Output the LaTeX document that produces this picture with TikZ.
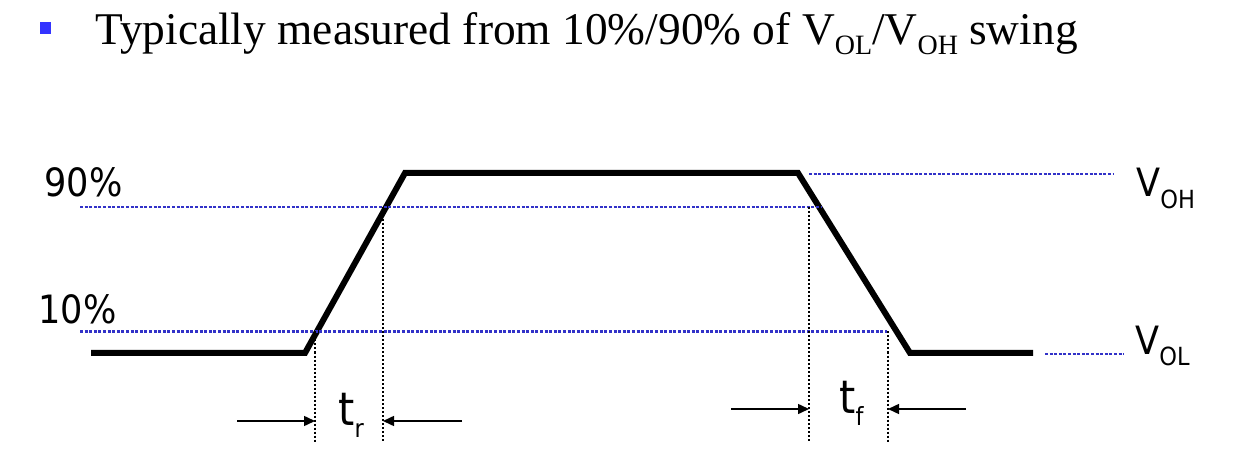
\documentclass[tikz,border=0pt]{standalone}
\usepackage{fontspec}
\setmainfont{Liberation Serif}
\newfontfamily\lab{DejaVu Sans Condensed}
\usetikzlibrary{arrows.meta}
\definecolor{bulletblue}{RGB}{51,51,255}
\definecolor{lvlblue}{RGB}{50,50,200}
\newcommand{\tsub}[1]{\raisebox{-5pt}{\fontsize{14}{14}\selectfont #1}}
\newcommand{\lsub}[2]{\raisebox{-#1}{\fontsize{12.5}{12.5}\selectfont #2}}
\begin{document}
\begin{tikzpicture}[x=0.5pt,y=-0.5pt,
  wave/.style={line width=3pt},
  lvl/.style={draw=lvlblue, line width=1.3pt, dash pattern=on 1.5pt off 0.8pt},
  vmark/.style={line width=0.8pt, dash pattern=on 1pt off 1pt},
  dim/.style={line width=0.75pt, -{Triangle[length=5.5pt,width=5pt]}},
  lbl/.style={font=\lab\fontsize{19.5}{20}\selectfont, inner sep=0pt},
  tlbl/.style={font=\lab\fontsize{23}{24}\selectfont, inner sep=0pt},
  ttl/.style={font=\fontsize{22.7}{24}\selectfont, inner sep=0pt}]
\useasboundingbox (0,0) rectangle (1246,459);

% title
\fill[bulletblue] (40,22) rectangle (51,34);
\node[ttl, anchor=base west] (title) at (95,45)
  {Typically measured from 10\%/90\% of V\tsub{OL}/V\tsub{OH} swing};

% waveform
\coordinate (w0) at (91,353);
\coordinate (w1) at (305,353);
\coordinate (w2) at (405,173);
\coordinate (w3) at (798,173);
\coordinate (w4) at (910,353);
\coordinate (w5) at (1033,353);
\draw[wave] (w0) -- (w1) -- (w2) -- (w3) -- (w4) -- (w5);

% level lines
\coordinate (n90a) at (80,207);   \coordinate (n90b) at (822,207);
\coordinate (n10a) at (80,331.5); \coordinate (n10b) at (887,331.5);
\coordinate (ohA) at (809,174);   \coordinate (ohB) at (1113,174);
\coordinate (olA) at (1045,354);  \coordinate (olB) at (1124,354);
\draw[lvl] (n90a) -- (n90b);
\draw[lvl] (n10a) -- (n10b);
\draw[lvl] (ohA) -- (ohB);
\draw[lvl] (olA) -- (olB);

% vertical markers
\coordinate (r1t) at (315,331.5); \coordinate (r1b) at (315,443);
\coordinate (r2t) at (383,207);   \coordinate (r2b) at (383,443);
\coordinate (f1t) at (809,207);   \coordinate (f1b) at (809,443);
\coordinate (f2t) at (888,331.5); \coordinate (f2b) at (888,443);
\draw[vmark] (r1t) -- (r1b);
\draw[vmark] (r2t) -- (r2b);
\draw[vmark] (f1t) -- (f1b);
\draw[vmark] (f2t) -- (f2b);

% dimension arrows
\coordinate (ra0) at (237,421); \coordinate (ra1) at (315,421);
\coordinate (rb0) at (462,421); \coordinate (rb1) at (383,421);
\coordinate (fa0) at (731,409); \coordinate (fa1) at (809,409);
\coordinate (fb0) at (966,409); \coordinate (fb1) at (888,409);
\draw[dim] (ra0) -- (ra1);
\draw[dim] (rb0) -- (rb1);
\draw[dim] (fa0) -- (fa1);
\draw[dim] (fb0) -- (fb1);

% labels
\node[lbl, anchor=base west] (l90) at (44,197) {90\%};
\node[lbl, anchor=base west] (l10) at (38,324) {10\%};
\node[lbl, anchor=base west] (voh) at (1136,197) {V\lsub{6pt}{OH}};
\node[lbl, anchor=base west] (vol) at (1135,355) {V\lsub{5.5pt}{OL}};
\node[tlbl, anchor=base west] (tr) at (338,425) {t\lsub{6pt}{r}};
\node[tlbl, anchor=base west] (tf) at (839,413) {t\lsub{6pt}{f}};
\end{tikzpicture}
\end{document}
